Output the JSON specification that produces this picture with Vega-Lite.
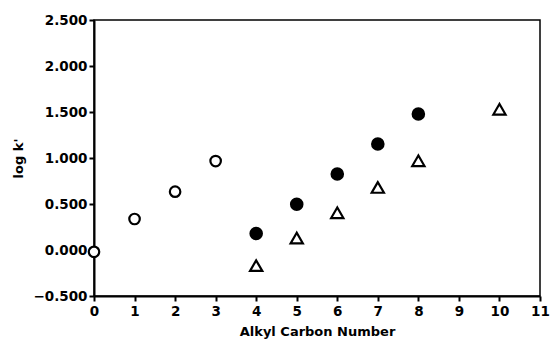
{
  "$schema": "https://vega.github.io/schema/vega-lite/v6.json",
  "width": 446,
  "height": 276,
  "autosize": "none",
  "padding": {"left": 94, "top": 20, "right": 11, "bottom": 52},
  "config": {
    "view": {"stroke": "black", "strokeWidth": 1.5},
    "axis": {"grid": false, "domainColor": "black", "domainWidth": 2, "tickColor": "black", "tickWidth": 2, "labelColor": "black", "titleColor": "black", "labelFont": "DejaVu Sans", "titleFont": "DejaVu Sans", "labelFontWeight": "bold", "titleFontWeight": "bold", "labelFontSize": 13.5, "titleFontSize": 13}
  },
  "data": {
    "values": [
      {"n": 0, "logk": -0.02, "series": "A"},
      {"n": 1, "logk": 0.337, "series": "A"},
      {"n": 2, "logk": 0.634, "series": "A"},
      {"n": 3, "logk": 0.967, "series": "A"},
      {"n": 4, "logk": 0.18, "series": "B"},
      {"n": 5, "logk": 0.497, "series": "B"},
      {"n": 6, "logk": 0.826, "series": "B"},
      {"n": 7, "logk": 1.152, "series": "B"},
      {"n": 8, "logk": 1.478, "series": "B"},
      {"n": 4, "logk": -0.17, "series": "C"},
      {"n": 5, "logk": 0.13, "series": "C"},
      {"n": 6, "logk": 0.405, "series": "C"},
      {"n": 7, "logk": 0.68, "series": "C"},
      {"n": 8, "logk": 0.97, "series": "C"},
      {"n": 10, "logk": 1.53, "series": "C"}
    ]
  },
  "mark": {"type": "point", "filled": true, "stroke": "black", "strokeWidth": 2.2, "opacity": 1},
  "encoding": {
    "x": {"field": "n", "type": "quantitative", "title": "Alkyl Carbon Number",
      "scale": {"domain": [0, 11], "nice": false, "zero": false},
      "axis": {"values": [0,1,2,3,4,5,6,7,8,9,10,11], "format": "d", "tickSize": 5, "labelPadding": 3, "titlePadding": 8, "labelFlush": false}},
    "y": {"field": "logk", "type": "quantitative", "title": "log k'",
      "scale": {"domain": [-0.5, 2.5], "nice": false, "zero": false},
      "axis": {"values": [-0.5, 0, 0.5, 1, 1.5, 2, 2.5], "format": ".3f", "tickSize": 5, "labelPadding": 2, "titlePadding": 7, "labelFlush": false}},
    "shape": {"field": "series", "type": "nominal", "legend": null,
      "scale": {"domain": ["A", "B", "C"], "range": ["circle", "circle", "triangle-up"]}},
    "fill": {"field": "series", "type": "nominal", "legend": null,
      "scale": {"domain": ["A", "B", "C"], "range": ["white", "black", "white"]}},
    "size": {"field": "series", "type": "nominal", "legend": null,
      "scale": {"domain": ["A", "B", "C"], "range": [110, 150, 45]}}
  }
}
